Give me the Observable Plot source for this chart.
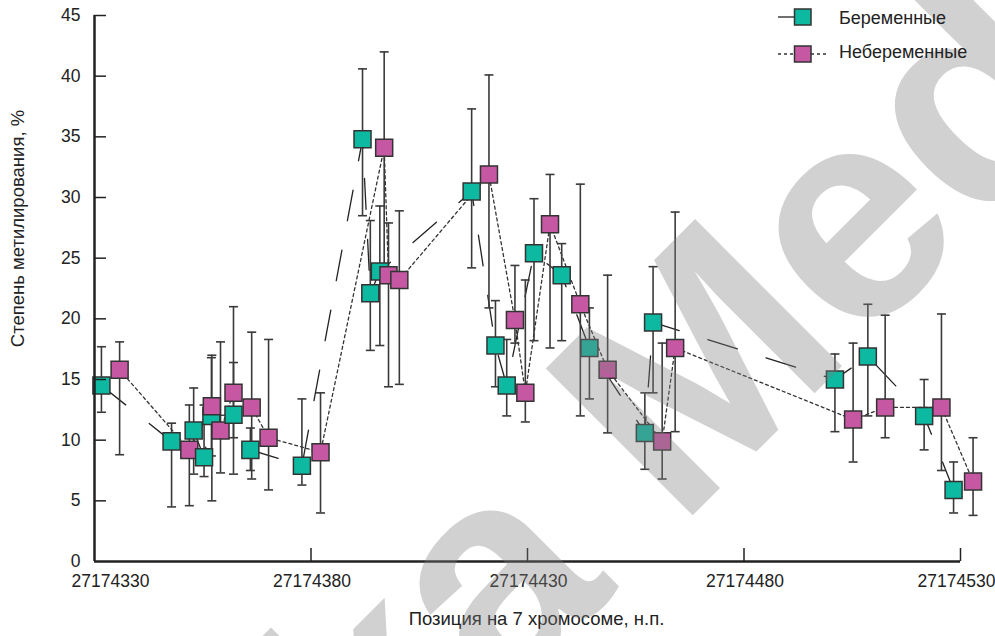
<!DOCTYPE html>
<html><head><meta charset="utf-8">
<script src="https://cdn.jsdelivr.net/npm/d3@7"></script>
<script src="https://cdn.jsdelivr.net/npm/@observablehq/plot@0.6"></script>
<style>
body{margin:0;background:#fff;font-family:"Liberation Sans",Arial,sans-serif;}
#wrap{position:relative;width:995px;height:636px;overflow:hidden;}
.lt{position:absolute;left:839px;font-size:18px;color:#222;line-height:20px;white-space:nowrap;}
</style></head><body><div id="wrap"></div>
<script>
// ---- data ----
const seriesNames = ["Беременные", "Небеременные"];
const pregPos  = [27174331.6,27174347.8,27174352.9,27174355.3,27174357.0,27174362.1,27174366.0,27174377.9,27174391.9,27174393.7,27174395.9,27174417.1,27174422.6,27174425.2,27174431.5,27174437.9,27174444.3,27174457.1,27174459.0,27174501.0,27174508.6,27174521.6,27174528.4];
const pregVal  = [14.5,9.9,10.8,8.6,12.0,12.1,9.2,7.9,34.8,22.1,23.9,30.5,17.8,14.5,25.4,23.6,17.6,10.6,19.7,15.0,16.9,12.0,5.9];
const pregLow  = [12.3,4.5,7.2,7.0,8.7,10.2,7.5,6.3,28.5,17.4,17.8,24.2,14.4,12.0,18.2,18.2,13.4,7.6,13.9,10.7,12.0,9.2,4.0];
const pregHigh = [17.7,11.4,14.3,12.9,16.8,16.4,11.0,13.4,40.6,28.1,29.3,37.3,21.5,18.3,29.9,26.2,20.9,13.9,24.3,17.1,21.2,15.0,8.2];
const nonPos   = [27174335.8,27174351.9,27174357.1,27174359.1,27174362.1,27174366.3,27174370.2,27174382.2,27174396.9,27174397.9,27174400.4,27174421.1,27174427.1,27174429.5,27174435.2,27174442.2,27174448.5,27174461.1,27174464.1,27174505.2,27174512.6,27174525.6,27174532.9];
const nonVal   = [15.8,9.2,12.8,10.8,13.9,12.7,10.2,9.0,34.1,23.6,23.2,31.9,19.9,13.9,27.8,21.2,15.8,9.9,17.6,11.7,12.7,12.7,6.6];
const nonLow   = [8.8,4.6,5.0,7.3,7.2,6.8,5.9,4.0,24.5,14.4,14.6,20.9,18.0,11.5,17.6,12.0,10.6,6.8,10.7,8.2,10.2,7.5,3.8];
const nonHigh  = [18.1,12.9,17.0,18.1,21.0,18.9,18.3,13.9,42.0,27.9,28.9,40.1,24.4,23.2,31.9,31.1,23.6,18.0,28.8,18.0,20.3,20.4,10.2];
const xDomain = [27174330, 27174530];
const yDomain = [0, 45];
const xTicks = [27174330, 27174380, 27174430, 27174480, 27174530];
const yTicks = [0, 5, 10, 15, 20, 25, 30, 35, 40, 45];
const xLabel = "Позиция на 7 хромосоме, н.п.";
const yLabel = "Степень метилирования, %";
const watermark = "ka Med";

// ---- build ----
const teal = "#0db9a0", magenta = "#c658a3";
const mk = (P, V, L, Hh, g) => P.map((p, i) => ({pos: p, val: V[i], lo: L[i], hi: Hh[i], group: g}));
const preg = mk(pregPos, pregVal, pregLow, pregHigh, seriesNames[0]);
const non = mk(nonPos, nonVal, nonLow, nonHigh, seriesNames[1]);
const all = preg.concat(non).sort((a, b) => a.pos - b.pos);

const W = 995, H = 636, mL = 94, mR = 35, mT = 15, mB = 75;
const pw = W - mL - mR, ph = H - mT - mB;
const font = "Liberation Sans, Arial, sans-serif";
const fmt = d3.format("d");
const cap = {draw(ctx) { ctx.moveTo(-4.5, 0); ctx.lineTo(4.5, 0); }};
const barStroke = "#3a3a3a";

const chart = Plot.plot({
  width: W, height: H,
  marginLeft: mL, marginRight: mR, marginTop: mT, marginBottom: mB,
  x: {domain: xDomain},
  y: {domain: yDomain},
  color: {domain: seriesNames, range: [teal, magenta]},
  style: {fontFamily: font, color: "#222", background: "white", overflow: "visible"},
  marks: [
    // lines
    Plot.line(preg, {x: "pos", y: "val", stroke: "#222", strokeWidth: 1.3, strokeDasharray: "31,30"}),
    Plot.line(non, {x: "pos", y: "val", stroke: "#333", strokeWidth: 1.3, strokeDasharray: "3,3"}),
    // error bars
    Plot.ruleX(all, {x: "pos", y1: "lo", y2: "hi", stroke: barStroke, strokeWidth: 1.6}),
    Plot.dot(all, {x: "pos", y: "hi", symbol: cap, r: 5, stroke: barStroke, strokeWidth: 1.6, fill: "none"}),
    Plot.dot(all, {x: "pos", y: "lo", symbol: cap, r: 5, stroke: barStroke, strokeWidth: 1.6, fill: "none"}),
    // squares
    Plot.dot(all, {x: "pos", y: "val", symbol: "square", r: 9.6, fill: "group", stroke: "#333", strokeWidth: 1.5}),
    // axes
    Plot.ruleX([xDomain[0]], {stroke: "#222", strokeWidth: 2.5}),
    Plot.ruleY([yDomain[0]], {stroke: "#222", strokeWidth: 2.5}),
    Plot.tickY(yTicks.slice(1), {y: d => d, insetRight: pw - 12, stroke: "#222", strokeWidth: 1.5}),
    Plot.tickX(xTicks.slice(1), {x: d => d, insetTop: ph - 13, stroke: "#222", strokeWidth: 1.5}),
    Plot.axisY(yTicks, {tickSize: 0, tickPadding: 14, fontSize: 17.5, label: null, tickFormat: fmt}),
    Plot.axisX(xTicks.slice(0, 1), {tickSize: 0, tickPadding: 13, dx: 16, fontSize: 17.5, label: null, tickFormat: fmt}),
    Plot.axisX(xTicks.slice(1, 4), {tickSize: 0, tickPadding: 13, dx: 1, fontSize: 17.5, label: null, tickFormat: fmt}),
    Plot.axisX(xTicks.slice(4), {tickSize: 0, tickPadding: 13, dx: -4, fontSize: 17.5, label: null, tickFormat: fmt}),
    Plot.text([yLabel], {text: d => d, frameAnchor: "left", textAnchor: "middle", dx: -76, dy: -60, rotate: -90, fontSize: 18.5, fill: "#222"}),
    Plot.text([xLabel], {text: d => d, frameAnchor: "bottom", textAnchor: "middle", dx: 9, dy: 63, fontSize: 18.5, fill: "#222"}),
    // watermark
    Plot.text([watermark], {text: d => d, frameAnchor: "top-left", dx: 743 - mL, dy: 464 - mT, rotate: -45, fontSize: 302, fontWeight: 700, fill: "#808080", fillOpacity: 0.36, textAnchor: "middle", lineAnchor: "bottom"})
  ]
});
const wrap = document.getElementById("wrap");
wrap.appendChild(chart);

// legend
const leg = document.createElementNS("http://www.w3.org/2000/svg", "svg");
leg.setAttribute("width", 60); leg.setAttribute("height", 70);
leg.style.position = "absolute"; leg.style.left = "770px"; leg.style.top = "0px";
leg.innerHTML = `<line x1="8" y1="17" x2="24" y2="17" stroke="#222" stroke-width="1.3"/>
<rect x="24.5" y="9" width="16.5" height="16" fill="${teal}" stroke="#333" stroke-width="1.5"/>
<line x1="8" y1="54" x2="24" y2="54" stroke="#333" stroke-width="1.3" stroke-dasharray="3,3"/>
<line x1="41" y1="54" x2="57" y2="54" stroke="#333" stroke-width="1.3" stroke-dasharray="3,3"/>
<rect x="24.5" y="46" width="16.5" height="16" fill="${magenta}" stroke="#333" stroke-width="1.5"/>`;
wrap.appendChild(leg);
seriesNames.forEach((n, i) => {
  const t = document.createElement("div");
  t.className = "lt"; t.textContent = n;
  t.style.top = (i === 0 ? 8 : 42) + "px";
  wrap.appendChild(t);
});
</script></body></html>
